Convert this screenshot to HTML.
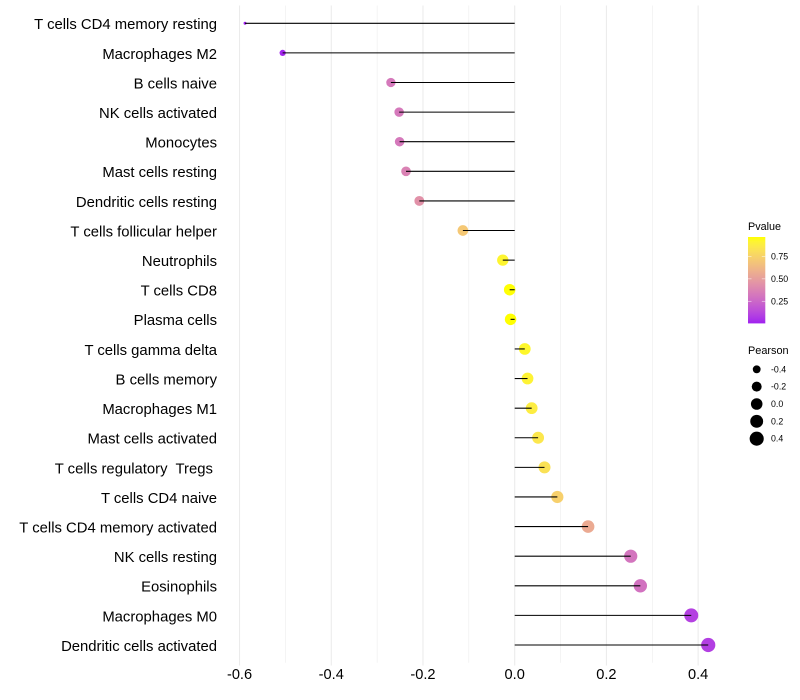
<!DOCTYPE html>
<html>
<head>
<meta charset="utf-8">
<title>Immune cell correlation lollipop chart</title>
<style>
html,body{margin:0;padding:0;background:#fff;}
svg{display:block;font-family:"Liberation Sans",Arial,sans-serif;}
</style>
</head>
<body>
<svg id="chart" width="800" height="700" viewBox="0 0 800 700" xmlns="http://www.w3.org/2000/svg">
<defs>
<linearGradient id="pgrad" x1="0" y1="1" x2="0" y2="0"></linearGradient>
</defs>
<rect width="800" height="700" fill="#fff"/>
<g id="grid"></g>
<g id="points"></g>
<g id="stems"></g>
<g id="ylabels"></g>
<g id="xlabels"></g>
<g id="plegend">
<text x="748" y="230" font-size="10.8" fill="#000">Pvalue</text>
<rect x="748" y="237" width="17.3" height="86.4" fill="url(#pgrad)"/>
</g>
<g id="slegend">
<text x="748" y="354" font-size="10.9" fill="#000">Pearson</text>
</g>
</svg>
<script>
const categories = ["T cells CD4 memory resting","Macrophages M2","B cells naive","NK cells activated","Monocytes","Mast cells resting","Dendritic cells resting","T cells follicular helper","Neutrophils","T cells CD8","Plasma cells","T cells gamma delta","B cells memory","Macrophages M1","Mast cells activated","T cells regulatory  Tregs ","T cells CD4 naive","T cells CD4 memory activated","NK cells resting","Eosinophils","Macrophages M0","Dendritic cells activated"];
const pearson = [-0.588,-0.506,-0.27,-0.252,-0.251,-0.237,-0.208,-0.113,-0.026,-0.011,-0.009,0.022,0.028,0.037,0.051,0.065,0.093,0.16,0.253,0.274,0.385,0.422];
const pvalues = [0.004,0.016,0.33,0.33,0.33,0.37,0.44,0.7,0.92,0.965,0.967,0.93,0.91,0.88,0.85,0.82,0.74,0.56,0.31,0.3,0.1,0.09];
const xTicks = [-0.6,-0.4,-0.2,0,0.2,0.4];
const xTickLabels = ["-0.6","-0.4","-0.2","0.0","0.2","0.4"];
const xMinorTicks = [-0.5,-0.3,-0.1,0.1,0.3];
const pLegendTicks = [0.25,0.5,0.75];
const pLegendLabels = ["0.25","0.50","0.75"];
const sizeLegendValues = [-0.4,-0.2,0,0.2,0.4];
const sizeLegendLabels = ["-0.4","-0.2","0.0","0.2","0.4"];

const NS = "http://www.w3.org/2000/svg";
function mk(tag, attrs, parent) {
  const el = document.createElementNS(NS, tag);
  for (const k in attrs) el.setAttribute(k, attrs[k]);
  parent.appendChild(el);
  return el;
}
const xScale = v => 514.7 + v * 458.6;
const yScale = i => 23.29 + i * 29.605;
const pMin = 0.003, pMax = 0.967;
const panelTop = 5.5, panelBottom = 662.8;
const legendTop = 237, legendBottom = 323.4;
const pScale = p => legendBottom - (p - pMin) / (pMax - pMin) * (legendBottom - legendTop);
const pearsonMin = Math.min.apply(null, pearson), pearsonMax = Math.max.apply(null, pearson);
const rScale = v => 1.5 + 5.6 * Math.sqrt(Math.max(0, (v - pearsonMin) / (pearsonMax - pearsonMin)));

function rgb2lab(c) {
  const f = u => { u /= 255; return u > 0.04045 ? Math.pow((u + 0.055) / 1.055, 2.4) : u / 12.92; };
  const r = f(c[0]), g = f(c[1]), b = f(c[2]);
  const X = (0.4124 * r + 0.3576 * g + 0.1805 * b) / 0.95047;
  const Y = 0.2126 * r + 0.7152 * g + 0.0722 * b;
  const Z = (0.0193 * r + 0.1192 * g + 0.9505 * b) / 1.08883;
  const h = t => t > 0.008856 ? Math.cbrt(t) : 7.787 * t + 16 / 116;
  return [116 * h(Y) - 16, 500 * (h(X) - h(Y)), 200 * (h(Y) - h(Z))];
}
function lab2rgb(l) {
  const fy = (l[0] + 16) / 116, fx = fy + l[1] / 500, fz = fy - l[2] / 200;
  const h = t => t * t * t > 0.008856 ? t * t * t : (t - 16 / 116) / 7.787;
  const X = h(fx) * 0.95047, Y = h(fy), Z = h(fz) * 1.08883;
  const g = u => { const v = u > 0.0031308 ? 1.055 * Math.pow(u, 1 / 2.4) - 0.055 : 12.92 * u; return Math.round(Math.min(1, Math.max(0, v)) * 255); };
  return "rgb(" + g(3.2406 * X - 1.5372 * Y - 0.4986 * Z) + "," + g(-0.9689 * X + 1.8758 * Y + 0.0415 * Z) + "," + g(0.0557 * X - 0.204 * Y + 1.057 * Z) + ")";
}
const labLow = rgb2lab([160, 32, 240]), labHigh = rgb2lab([255, 255, 0]);
const colorAt = t => lab2rgb(labLow.map((a, i) => a + (labHigh[i] - a) * t));
const colorScale = p => colorAt(Math.min(1, Math.max(0, (p - pMin) / (pMax - pMin))));

const grid = document.getElementById("grid");
xMinorTicks.forEach(v => {
  const el = mk("line", {x1: xScale(v), x2: xScale(v), y1: panelTop, y2: panelBottom, stroke: "#ebebeb", "stroke-width": 0.55}, grid);
  
  
});
xTicks.forEach(v => {
  const el = mk("line", {x1: xScale(v), x2: xScale(v), y1: panelTop, y2: panelBottom + 2.7, stroke: "#ebebeb", "stroke-width": 1.07}, grid);
  
  
});

const pointsG = document.getElementById("points");
const stemsG = document.getElementById("stems");
const ylabelsG = document.getElementById("ylabels");
categories.forEach((c, i) => {
  const dot = mk("circle", {cx: xScale(pearson[i]), cy: yScale(i), r: rScale(pearson[i]), fill: colorScale(pvalues[i])}, pointsG);
  
  
  const stem = mk("line", {x1: xScale(0), x2: xScale(pearson[i]), y1: yScale(i), y2: yScale(i), stroke: "#000", "stroke-width": 1.07}, stemsG);
  
  
  const t = mk("text", {x: 217, y: yScale(i) + 5.9, "text-anchor": "end", "font-size": 14.85, fill: "#000"}, ylabelsG);
  t.setAttribute('xml:space', 'preserve');
  t.style.whiteSpace = "pre";
  t.textContent = c;
  
  
});

const xlabelsG = document.getElementById("xlabels");
xTicks.forEach((v, i) => {
  const t = mk("text", {x: xScale(v), y: 679, "text-anchor": "middle", "font-size": 14.6, fill: "#000"}, xlabelsG);
  t.textContent = xTickLabels[i];
  
  
});

const grad = document.getElementById("pgrad");
for (let k = 0; k <= 20; k++) {
  mk("stop", {offset: k / 20, "stop-color": colorAt(k / 20)}, grad);
}
const plegend = document.getElementById("plegend");
pLegendTicks.forEach((p, i) => {
  const y = pScale(p);
  const a = mk("line", {x1: 748, x2: 751.5, y1: y, y2: y, stroke: "#fff", "stroke-width": 0.6, "stroke-opacity": 0.8}, plegend);
  
  
  const b = mk("line", {x1: 761.8, x2: 765.3, y1: y, y2: y, stroke: "#fff", "stroke-width": 0.6, "stroke-opacity": 0.8}, plegend);
  
  
  const t = mk("text", {x: 771, y: y + 3, "font-size": 8.8, fill: "#000"}, plegend);
  t.textContent = pLegendLabels[i];
  
  
});

const slegend = document.getElementById("slegend");
sizeLegendValues.forEach((v, i) => {
  const y = 369.3 + i * 17.35;
  const c = mk("circle", {cx: 756.7, cy: y, r: rScale(v), fill: "#000"}, slegend);
  
  
  const t = mk("text", {x: 771, y: y + 3, "font-size": 8.8, fill: "#000"}, slegend);
  t.textContent = sizeLegendLabels[i];
  
  
});
</script>
</body>
</html>
